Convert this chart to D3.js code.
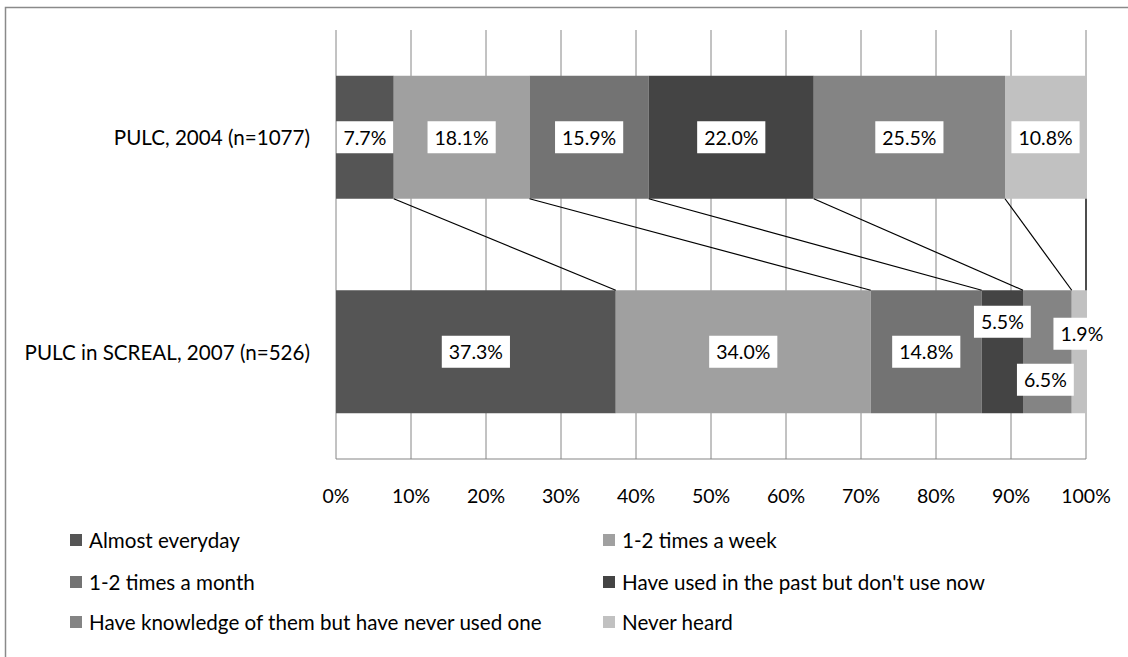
<!DOCTYPE html>
<html>
<head>
<meta charset="utf-8">
<script src="https://cdn.jsdelivr.net/npm/d3@7"></script>
<style>
  html, body { margin: 0; padding: 0; background: #fff; }
  svg { display: block; font-family: Lato, "Open Sans", sans-serif; }
</style>
</head>
<body>
<svg id="chart" width="1128" height="657"></svg>
<script>
// Frequency of use, share of respondents per survey
const surveys = ["PULC, 2004 (n=1077)", "PULC in SCREAL, 2007 (n=526)"];
const categories = [
  "Almost everyday",
  "1-2 times a week",
  "1-2 times a month",
  "Have used in the past but don't use now",
  "Have knowledge of them but have never used one",
  "Never heard"
];
const values2004 = [7.7, 18.1, 15.9, 22.0, 25.5, 10.8];
const values2007 = [37.3, 34.0, 14.8, 5.5, 6.5, 1.9];
const tickValues = [0, 10, 20, 30, 40, 50, 60, 70, 80, 90, 100];
const colors = ["#555555", "#a0a0a0", "#737373", "#444444", "#848484", "#c1c1c1"];

// Label offsets (px) where small segments would make labels collide
const labelNudge = [
  [[0, 0], [0, 0], [0, 0], [0, 0], [0, 0], [0, 0]],
  [[0, 0], [0, 0], [0, 0], [0, -30], [-2, 28], [3, -18]]
];

const seriesValues = [values2004, values2007];

const labelFont = 19.5;
const textFont = 20.6;

const svg = d3.select("#chart");

// chart frame
svg.append("rect")
  .attr("x", 5.5).attr("y", 7.5)
  .attr("width", 1140).attr("height", 670)
  .attr("fill", "#fff")
  .attr("stroke", "#8a8a8a").attr("stroke-width", 1.5);

const x = d3.scaleLinear().domain([0, 100]).range([336, 1086]);
const y = d3.scaleBand().domain(surveys).range([30, 459])
  .paddingInner(0.4266).paddingOuter(0.2133);

// gridlines
svg.append("g")
  .selectAll("line")
  .data(tickValues)
  .join("line")
  .attr("x1", d => x(d)).attr("x2", d => x(d))
  .attr("y1", 30).attr("y2", 459)
  .attr("stroke", "#868686").attr("stroke-width", 1);

// bottom axis line
svg.append("line")
  .attr("x1", x(0)).attr("x2", x(100))
  .attr("y1", 459).attr("y2", 459)
  .attr("stroke", "#868686").attr("stroke-width", 1.2);

// tick labels
svg.append("g")
  .selectAll("text")
  .data(tickValues)
  .join("text")
  .attr("x", d => x(d)).attr("y", 495)
  .attr("text-anchor", "middle").attr("dominant-baseline", "central")
  .attr("font-size", labelFont).attr("fill", "#000")
  .text(d => d + "%");

// stacked segments
const stacked = seriesValues.map((vals, si) => {
  let acc = 0;
  return vals.map((v, ci) => {
    const seg = { survey: surveys[si], si, ci, v, x0: acc, x1: acc + v };
    acc += v;
    return seg;
  });
});

const segs = stacked.flat();

svg.append("g")
  .selectAll("rect")
  .data(segs)
  .join("rect")
  .attr("x", d => x(d.x0))
  .attr("y", d => y(d.survey))
  .attr("width", d => x(d.x1) - x(d.x0))
  .attr("height", y.bandwidth())
  .attr("fill", d => colors[d.ci]);

// series lines connecting segment boundaries between the two bars
const seriesLines = stacked[0].map((s, i) => ({ a: s.x1, b: stacked[1][i].x1 }));
svg.append("g")
  .selectAll("line")
  .data(seriesLines)
  .join("line")
  .attr("x1", d => x(d.a))
  .attr("y1", y(surveys[0]) + y.bandwidth())
  .attr("x2", d => x(d.b))
  .attr("y2", y(surveys[1]))
  .attr("stroke", "#000").attr("stroke-width", 1.2);

// data labels in white boxes
const labels = svg.append("g")
  .selectAll("g")
  .data(segs)
  .join("g")
  .attr("transform", d => {
    const n = labelNudge[d.si][d.ci];
    const cx = (x(d.x0) + x(d.x1)) / 2 + n[0];
    const cy = y(d.survey) + y.bandwidth() / 2 + n[1];
    return `translate(${cx},${cy})`;
  });

labels.append("text")
  .attr("text-anchor", "middle").attr("dominant-baseline", "central")
  .attr("font-size", labelFont).attr("fill", "#000")
  .text(d => d.v.toFixed(1) + "%");

labels.each(function () {
  const g = d3.select(this);
  const bb = g.select("text").node().getBBox();
  g.insert("rect", "text")
    .attr("x", bb.x - 7).attr("y", -16)
    .attr("width", bb.width + 14).attr("height", 32)
    .attr("fill", "#fff");
});

// category labels
svg.append("g")
  .selectAll("text")
  .data(surveys)
  .join("text")
  .attr("x", 310)
  .attr("y", d => y(d) + y.bandwidth() / 2)
  .attr("text-anchor", "end").attr("dominant-baseline", "central")
  .attr("font-size", textFont).attr("fill", "#000")
  .text(d => d);

// legend, two columns
const legendCols = [70, 603];
const legendRows = [540, 582, 622];
const legend = svg.append("g")
  .selectAll("g")
  .data(categories)
  .join("g")
  .attr("transform", (d, i) => `translate(${legendCols[i % 2]},${legendRows[Math.floor(i / 2)]})`);

legend.append("rect")
  .attr("x", 0).attr("y", -6)
  .attr("width", 12).attr("height", 12)
  .attr("fill", (d, i) => colors[i]);

legend.append("text")
  .attr("x", 19).attr("y", 0)
  .attr("dominant-baseline", "central")
  .attr("font-size", textFont).attr("fill", "#000")
  .text(d => d);
</script>
</body>
</html>
